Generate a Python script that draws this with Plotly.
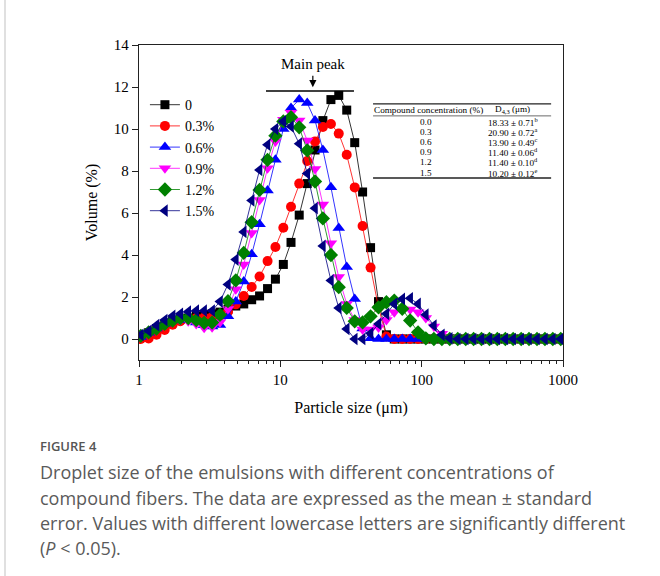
import plotly.graph_objects as go

# Particle size classes (µm)
sizes = [1.03, 1.17, 1.33, 1.52, 1.73, 1.96, 2.23, 2.54, 2.89, 3.29,
         3.74, 4.26, 4.84, 5.51, 6.27, 7.13, 8.12, 9.23, 10.5, 11.9,
         13.6, 15.5, 17.6, 20.0, 22.8, 25.9, 29.5, 33.6, 38.2, 43.5,
         49.5, 56.3, 64.0, 72.9, 82.9, 94.3, 107, 122, 139, 158,
         180, 205, 233, 265, 302, 343, 391, 444, 506, 575,
         655, 745, 847, 964]

vol_0 = [0.1, 0.3, 0.5, 0.7, 0.85, 0.95, 1.0, 1.1, 1.15, 1.2,
         1.28, 1.42, 1.57, 1.67, 1.87, 2.05, 2.4, 2.85, 3.55, 4.6,
         5.9, 7.4, 9.0, 10.4, 11.4, 11.6, 10.9, 9.35, 7.0, 4.35,
         1.78, 0.2] + [0.0] * 22
vol_03 = [0.0, 0.02, 0.2, 0.43, 0.68, 0.85, 0.95, 1.0, 1.02, 1.05,
          1.1, 1.3, 1.65, 2.05, 2.48, 2.98, 3.71, 4.38, 5.3, 6.3,
          7.4, 8.48, 9.41, 10.1, 10.24, 9.78, 8.77, 7.22, 5.38, 3.4,
          1.5, 0.12] + [0.0] * 22
vol_06 = [0.1, 0.3, 0.5, 0.72, 0.88, 0.95, 0.9, 0.78, 0.65, 0.6,
          0.67, 1.08, 1.78, 2.74, 4.03, 5.47, 7.07, 8.53, 10.0, 11.0,
          11.4, 11.24, 10.41, 9.0, 7.23, 5.28, 3.43, 1.91, 0.5, 0.03] + [0.0] * 24
vol_09 = [0.1, 0.28, 0.5, 0.7, 0.85, 0.9, 0.85, 0.72, 0.53, 0.56,
          0.8, 1.43, 2.37, 3.55, 5.05, 6.62, 8.13, 9.4, 10.44, 10.77,
          10.41, 9.45, 8.09, 6.4, 4.56, 2.95, 1.67, 0.9, 0.45, 0.45,
          0.55, 0.9, 1.27, 1.4, 1.4, 1.27, 1.0, 0.6, 0.25, 0.05] + [0.0] * 14
vol_12 = [0.15, 0.32, 0.5, 0.72, 0.88, 1.0, 1.0, 0.9, 0.77, 0.78,
          1.15, 1.8, 2.79, 4.1, 5.56, 7.1, 8.53, 9.68, 10.36, 10.56,
          10.08, 8.98, 7.5, 5.74, 4.0, 2.47, 1.48, 0.84, 0.79, 1.08,
          1.51, 1.75, 1.83, 1.44, 0.88, 0.32, 0.03] + [0.0] * 17
vol_15 = [0.2, 0.38, 0.66, 0.9, 1.1, 1.2, 1.3, 1.35, 1.35, 1.35,
          1.78, 2.6, 3.78, 5.1, 6.6, 8.05, 9.25, 10.0, 10.36, 10.12,
          9.3, 7.88, 6.23, 4.43, 2.79, 1.48, 0.48, 0.0, 0.0, 0.27,
          0.72, 1.2, 1.67, 1.91, 1.94, 1.67, 1.16, 0.64, 0.2, 0.03] + [0.0] * 14

series_names = ["0", "0.3%", "0.6%", "0.9%", "1.2%", "1.5%"]
series_vals = [vol_0, vol_03, vol_06, vol_09, vol_12, vol_15]
colors = ["#000000", "#ff0000", "#0000ff", "#ff00ff", "#008000", "#000080"]
symbols = ["square", "circle", "triangle-up", "triangle-down", "diamond", "triangle-left"]
msizes = [9, 10, 11, 11, 11, 11]

x_ticks = [1, 10, 100, 1000]
x_minor = [2, 3, 4, 5, 6, 7, 8, 9, 20, 30, 40, 50, 60, 70, 80, 90,
           200, 300, 400, 500, 600, 700, 800, 900]
y_ticks = [0, 2, 4, 6, 8, 10, 12, 14]

table_conc = ["0.0", "0.3", "0.6", "0.9", "1.2", "1.5"]
table_d43 = ["18.33 ± 0.71<sup>b</sup>", "20.90 ± 0.72<sup>a</sup>", "13.90 ± 0.49<sup>c</sup>",
             "11.40 ± 0.06<sup>d</sup>", "11.40 ± 0.10<sup>d</sup>", "10.20 ± 0.12<sup>e</sup>"]

SERIF = "Liberation Serif"

fig = go.Figure()
for name, vals, c, s, ms in zip(series_names, series_vals, colors, symbols, msizes):
    fig.add_trace(go.Scatter(
        x=sizes, y=vals, name=name, mode="lines+markers",
        line=dict(color=c, width=0.8),
        marker=dict(symbol=s, size=ms, color=c, line=dict(width=0)),
    ))

fig.update_layout(
    width=660, height=576,
    margin=dict(l=139, r=97, t=45, b=216),
    paper_bgcolor="white", plot_bgcolor="white",
    font=dict(family=SERIF, size=15, color="#000"),
    showlegend=True,
    legend=dict(x=0.014, y=0.86, xanchor="left", yanchor="top",
                bgcolor="rgba(0,0,0,0)", font=dict(family=SERIF, size=14),
                tracegroupgap=0),
    xaxis=dict(type="log", range=[0, 3], tickvals=x_ticks,
               ticktext=[str(v) for v in x_ticks],
               showline=True, mirror=True, linecolor="#222", linewidth=1.3,
               ticks="outside", ticklen=6, tickwidth=1.2, tickcolor="#222",
               minor=dict(tickvals=x_minor, ticks="outside", ticklen=3, tickwidth=1,
                          tickcolor="#222", showgrid=False),
               showgrid=False, zeroline=False,
               tickfont=dict(family=SERIF, size=15),
               title=dict(text="Particle size (μm)", font=dict(family=SERIF, size=16), standoff=14)),
    yaxis=dict(range=[-1, 14], tickvals=y_ticks,
               showline=True, mirror=True, linecolor="#222", linewidth=1.3,
               ticks="outside", ticklen=6, tickwidth=1.2, tickcolor="#222",
               showgrid=False, zeroline=False,
               tickfont=dict(family=SERIF, size=15),
               title=dict(text="Volume (%)", font=dict(family=SERIF, size=16), standoff=12)),
)

def ann(x, y, text, size, family=SERIF, color="#000", xanchor="center", weight="normal"):
    fig.add_annotation(xref="paper", yref="paper", x=x, y=y, text=text, showarrow=False,
                       xanchor=xanchor, yanchor="middle",
                       font=dict(family=family, size=size, color=color, weight=weight))

# Main peak annotation
fig.add_shape(type="line", xref="paper", yref="paper", x0=0.2995, x1=0.507, y0=0.854, y1=0.854,
              line=dict(color="#000", width=1.3))
fig.add_annotation(xref="paper", yref="paper", x=0.41, y=0.866, ax=0, ay=-13,
                   text="", showarrow=True,
                   arrowhead=2, arrowsize=1.2, arrowwidth=1.2, arrowcolor="#000")
ann(0.41, 0.94, "Main peak", 15)

# Inset table
tx0, tx1 = 0.552, 0.972
fig.add_shape(type="line", xref="paper", yref="paper", x0=tx0, x1=tx1, y0=0.813, y1=0.813,
              line=dict(color="#222", width=1.4))
fig.add_shape(type="line", xref="paper", yref="paper", x0=tx0, x1=tx1, y0=0.775, y1=0.775,
              line=dict(color="#444", width=0.8))
fig.add_shape(type="line", xref="paper", yref="paper", x0=tx0, x1=tx1, y0=0.578, y1=0.578,
              line=dict(color="#222", width=1.4))
ann(0.682, 0.794, "Compound concentration (%)", 9.2)
ann(0.882, 0.794, "D<sub>4,3</sub> (μm)", 9.2)
row_y = [0.756, 0.724, 0.692, 0.660, 0.627, 0.595]
for ry, c1, c2 in zip(row_y, table_conc, table_d43):
    ann(0.677, ry, c1, 9.2)
    ann(0.882, ry, c2, 9.2)

# Card left border
def px_x(px):
    return (px - 139) / 424

def px_y(py):
    return (360 - py) / 315

fig.add_shape(type="line", xref="paper", yref="paper", x0=px_x(5), x1=px_x(5),
              y0=px_y(576), y1=px_y(0), line=dict(color="#cccccc", width=1.2))

# Caption
ann(px_x(38), px_y(446), "FIGURE 4", 13, family="Open Sans", color="#555", xanchor="left", weight=600)
caption_lines = [
    "Droplet size of the emulsions with different concentrations of",
    "compound fibers. The data are expressed as the mean ± standard",
    "error. Values with different lowercase letters are significantly different",
    "(<i>P</i> &lt; 0.05).",
]
cap_y = [472, 498, 523, 548]
for line, cy in zip(caption_lines, cap_y):
    ann(px_x(38), px_y(cy), line, 18, family="Open Sans", color="#5a5a5a", xanchor="left")

fig.write_html("out.html")
